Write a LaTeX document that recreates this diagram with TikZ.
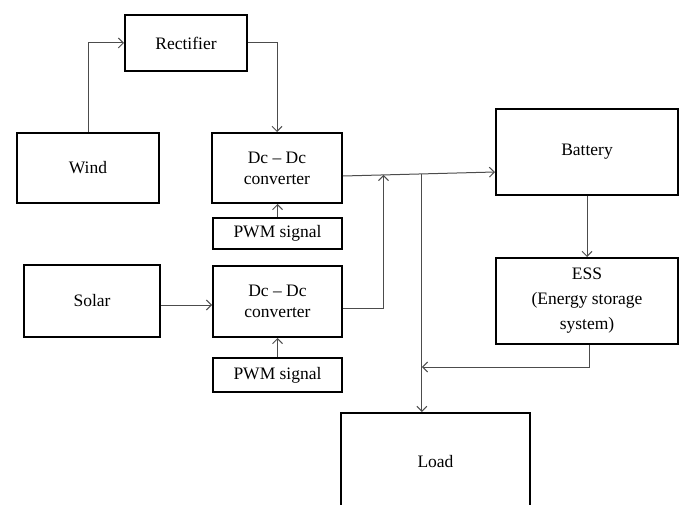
\documentclass[tikz,border=0pt]{standalone}
\usepackage{fontspec}
\setmainfont{Liberation Serif}
\usetikzlibrary{arrows.meta,calc}
\begin{document}
\begin{tikzpicture}[x=1pt,y=-1pt,
  box/.style={draw=black,line width=2pt,rectangle,inner sep=0pt,align=center,
    font=\fontsize{17.5}{21}\selectfont},
  conn/.style={draw=black!70,line width=1pt,-{Straight Barb[length=5pt,width=10pt]}}]
\path[use as bounding box] (0,0) rectangle (683,505);
\clip (0,0) rectangle (683,505);
\node[box,minimum width=122pt,minimum height=56pt] (rect) at (186,43) {Rectifier};
\node[box,minimum width=142pt,minimum height=70pt] (wind) at (88,168) {Wind};
\node[box,minimum width=130pt,minimum height=70pt] (dc1) at (277,168) {Dc -- Dc\\converter};
\node[box,minimum width=129pt,minimum height=31pt] (pwm1) at (277.5,233.5) {PWM signal};
\node[box,minimum width=136pt,minimum height=72pt] (solar) at (92,301) {Solar};
\node[box,minimum width=129pt,minimum height=71pt] (dc2) at (277.5,301.5) {Dc -- Dc\\converter};
\node[box,minimum width=129pt,minimum height=34pt] (pwm2) at (277.5,375) {PWM signal};
\node[box,minimum width=182pt,minimum height=86pt] (batt) at (587,152) {Battery};
\node[box,minimum width=182pt,minimum height=86pt,font=\fontsize{17.5}{25}\selectfont] (ess) at (587,301) {ESS\\(Energy storage\\system)};
\node[box,minimum width=189pt,minimum height=98pt] (load) at (435.5,462) {Load};
% connectors
\draw[conn] (wind.north) |- (rect.west);
\draw[conn] (rect.east) -| (dc1.north);
\draw[conn] (pwm1.north) -- (pwm1.north |- dc1.south);
\draw[conn] ([yshift=-4pt]solar.east) -- ([yshift=-4pt]solar.east -| dc2.west);
\draw[conn] (pwm2.north) -- (pwm2.north |- dc2.south);
\coordinate (mA) at ([yshift=-8pt]dc1.east);
\coordinate (mB) at ([yshift=-20pt]batt.west);
\coordinate (j1) at ($(mA)!0.266!(mB)$);
\coordinate (j2) at ($(mA)!0.519!(mB)$);
\draw[conn] (mA) -- (mB);
\draw[conn] ([yshift=-6.5pt]dc2.east) -| (j1);
\draw[conn] (j2) -- (j2 |- load.north);
\draw[conn] (batt.south) -- (ess.north);
\coordinate (eturn) at (589,367);
\draw[conn] ([xshift=2pt]ess.south) -- (eturn) -- (eturn -| j2);
\end{tikzpicture}
\end{document}
